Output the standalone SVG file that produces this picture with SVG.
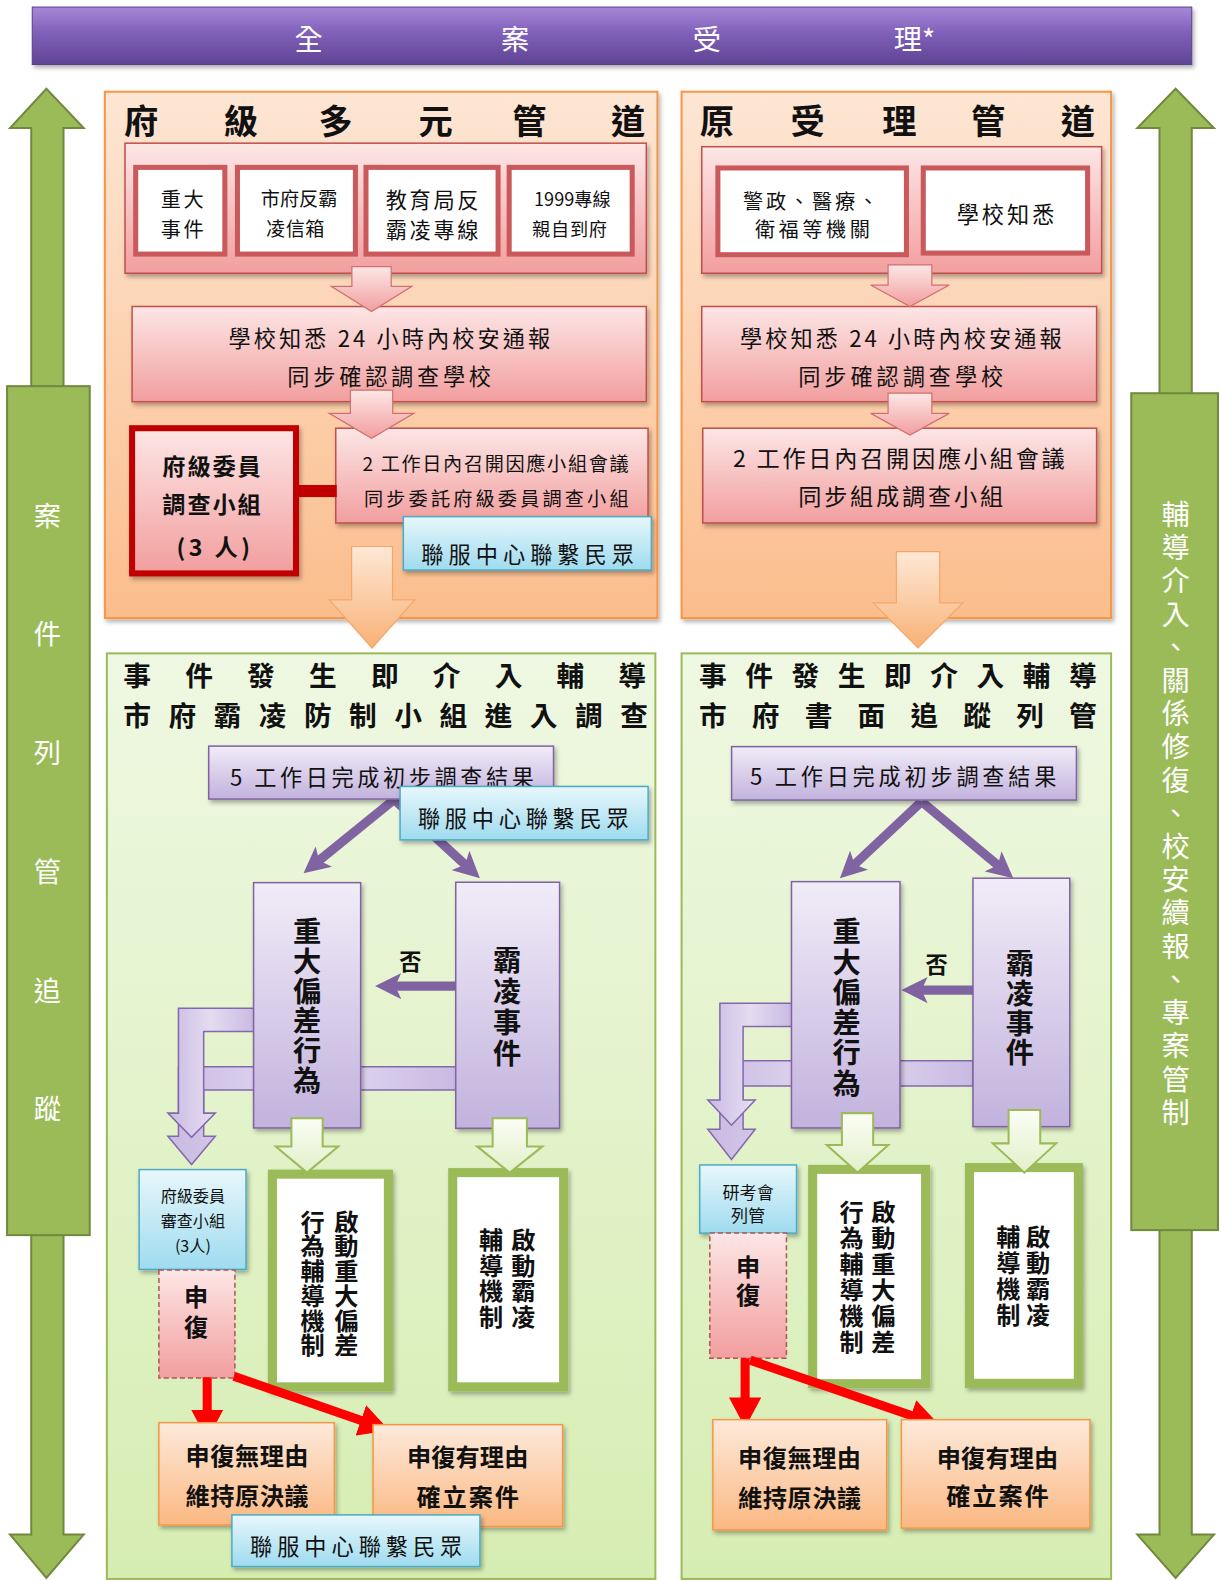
<svg xmlns="http://www.w3.org/2000/svg" width="1221" height="1581" viewBox="0 0 1221 1581">
<defs>
<style>
.t{font-family:"Noto Sans CJK TC","Noto Sans CJK SC",sans-serif;dominant-baseline:central;fill:#111}
.v{writing-mode:vertical-rl}
.b{font-weight:700}
.w{fill:#fff}
.c{text-anchor:middle}
.pink{fill:url(#gPink);stroke:#c0504d;stroke-width:1.5}
.wbox{fill:#fff;stroke:#c9595b;stroke-width:5}
.blue{fill:url(#gBlue);stroke:#4bacc6;stroke-width:1.5}
.lav{fill:url(#gLav);stroke:#8064a2;stroke-width:1.5}
.obox{fill:url(#gOBox);stroke:#f79646;stroke-width:1.5}
.gbox{fill:#fff;stroke:#9bbb59;stroke-width:9}
.parr{fill:url(#gPink);stroke:#d07070;stroke-width:1.2}
.oarr{fill:url(#gOArr);stroke:#f5a769;stroke-width:1.2}
.garr{fill:url(#gGArr);stroke:#9bbb59;stroke-width:2}
.bent{fill:url(#gBent);stroke:#8468ad;stroke-width:1.5}
.side{fill:#9bbb59;stroke:#71893f;stroke-width:2}
.pl{stroke:#8064a2;stroke-width:9;fill:none}
.rl{stroke:#f00;stroke-width:9;fill:none}
</style>
<linearGradient id="gBanner" x1="0" y1="0" x2="0" y2="1"><stop offset="0" stop-color="#a688d8"/><stop offset="0.45" stop-color="#8060b9"/><stop offset="1" stop-color="#5f4494"/></linearGradient>
<linearGradient id="gOPanel" x1="0" y1="0" x2="0" y2="1"><stop offset="0" stop-color="#fde6d4"/><stop offset="1" stop-color="#fbbd8c"/></linearGradient>
<linearGradient id="gPink" x1="0" y1="0" x2="0" y2="1"><stop offset="0" stop-color="#fde6e6"/><stop offset="1" stop-color="#f29e9e"/></linearGradient>
<linearGradient id="gBlue" x1="0" y1="0" x2="0" y2="1"><stop offset="0" stop-color="#e8f7fc"/><stop offset="1" stop-color="#9edbef"/></linearGradient>
<linearGradient id="gGPanel" x1="0" y1="0" x2="0" y2="1"><stop offset="0" stop-color="#eff8e2"/><stop offset="1" stop-color="#d6edb2"/></linearGradient>
<linearGradient id="gLav" x1="0" y1="0" x2="0" y2="1"><stop offset="0" stop-color="#f1ecf8"/><stop offset="1" stop-color="#c2b2dd"/></linearGradient>
<linearGradient id="gOBox" x1="0" y1="0" x2="0" y2="1"><stop offset="0" stop-color="#fdeadb"/><stop offset="1" stop-color="#fbb882"/></linearGradient>
<linearGradient id="gOArr" x1="0" y1="0" x2="0" y2="1"><stop offset="0" stop-color="#fde8d6"/><stop offset="1" stop-color="#f9b176"/></linearGradient>
<linearGradient id="gGArr" x1="0" y1="0" x2="0" y2="1"><stop offset="0" stop-color="#fbfdf6"/><stop offset="1" stop-color="#e2f0c9"/></linearGradient>
<linearGradient id="gBent" x1="0" y1="0" x2="1" y2="0"><stop offset="0" stop-color="#c9bae2"/><stop offset="0.5" stop-color="#e4dcf1"/><stop offset="1" stop-color="#c9bae2"/></linearGradient>
<filter id="sh" x="-10%" y="-10%" width="125%" height="130%"><feDropShadow dx="2" dy="3" stdDeviation="2" flood-color="#000" flood-opacity="0.3"/></filter>
<marker id="mp" markerUnits="userSpaceOnUse" markerWidth="26" markerHeight="26" refX="13" refY="13" orient="auto"><path d="M0,0 L26,13 L0,26 L6,13 Z" fill="#8064a2"/></marker>
<marker id="mr" markerUnits="userSpaceOnUse" markerWidth="32" markerHeight="32" refX="14" refY="16" orient="auto"><path d="M0,0 L30,16 L0,32 Z" fill="#f00"/></marker>
</defs>
<rect width="1221" height="1581" fill="#fff"/>
<g transform="scale(1.00827)">

<g id="banner">
<rect x="32" y="7" width="1150" height="57" fill="url(#gBanner)" stroke="#5a4188" stroke-width="1" filter="url(#sh)"/>
<text class="t w c" font-size="28"><tspan x="306" y="37">全</tspan><tspan x="511" y="37">案</tspan><tspan x="701" y="37">受</tspan><tspan x="907" y="37">理*</tspan></text>
</g>

<g id="side-left">
<path class="side" d="M46,88 L83,127 L63,127 L63,1522 L83,1522 L46,1565 L10,1522 L31,1522 L31,127 L10,127 Z"/>
<rect class="side" x="7" y="383" width="82" height="842"/>
<text class="t w v" font-size="27" x="47" y="497.5" style="letter-spacing:90.8px">案件列管追蹤</text>
</g>
<g id="side-right">
<path class="side" d="M1166,88 L1204,127 L1182,127 L1182,1522 L1204,1522 L1166,1565 L1128,1522 L1150,1522 L1150,127 L1128,127 Z"/>
<rect class="side" x="1122" y="390" width="86" height="830"/>
<text class="t w v" font-size="28" x="1166" y="496" style="letter-spacing:4.94px">輔導介入、關係修復、校安續報、專案管制</text>
</g>

<g id="panel-left-top">
<rect x="104" y="91" width="548" height="522" fill="url(#gOPanel)" stroke="#f79646" stroke-width="2" filter="url(#sh)"/>
<text class="t b c" font-size="34"><tspan x="140" y="118">府</tspan><tspan x="239" y="118">級</tspan><tspan x="333" y="118">多</tspan><tspan x="432" y="118">元</tspan><tspan x="525" y="118">管</tspan><tspan x="623" y="118">道</tspan></text>
</g>
<g id="panel-right-top">
<rect x="676" y="91" width="426" height="522" fill="url(#gOPanel)" stroke="#f79646" stroke-width="2" filter="url(#sh)"/>
<text class="t b c" font-size="34"><tspan x="711" y="118">原</tspan><tspan x="801" y="118">受</tspan><tspan x="892" y="118">理</tspan><tspan x="980" y="118">管</tspan><tspan x="1069" y="118">道</tspan></text>
</g>

<g id="sources-left">
<rect class="pink" x="124" y="142" width="517" height="129" filter="url(#sh)"/>
<rect class="wbox" x="134.6" y="166" width="88.4" height="86"/>
<rect class="wbox" x="235.5" y="166" width="117" height="86"/>
<rect class="wbox" x="363" y="166" width="131" height="86"/>
<rect class="wbox" x="505" y="166" width="122" height="86"/>
<text class="t" font-size="20" x="159.4" y="196.7" textLength="42.6">重大</text>
<text class="t" font-size="20" x="159.4" y="226.4" textLength="42.6">事件</text>
<text class="t" font-size="19" x="258.6" y="196.7" textLength="76">市府反霸</text>
<text class="t" font-size="19" x="263.8" y="226.4" textLength="58">凌信箱</text>
<text class="t" font-size="21" x="382.5" y="196.7" textLength="92">教育局反</text>
<text class="t" font-size="21" x="382.5" y="226.4" textLength="92">霸凌專線</text>
<text class="t" font-size="18" x="529.6" y="196.7" textLength="76">1999專線</text>
<text class="t" font-size="18" x="527.6" y="226.4" textLength="74.4">親自到府</text>
</g>
<g id="sources-right">
<rect class="pink" x="696" y="145.5" width="396.6" height="125.5" filter="url(#sh)"/>
<rect class="wbox" x="712" y="166.6" width="187" height="86"/>
<rect class="wbox" x="915.7" y="166.6" width="163" height="84.4"/>
<text class="t" font-size="20" x="737" y="198.4" textLength="134">警政、醫療、</text>
<text class="t" font-size="20" x="748.7" y="226.4" textLength="114">衛福等機關</text>
<text class="t" font-size="22" x="948.8" y="211" textLength="97">學校知悉</text>
</g>

<g id="report-left">
<rect class="pink" x="131" y="304" width="510" height="94.4" filter="url(#sh)"/>
<text class="t" font-size="22" x="226.7" y="334" textLength="319">學校知悉 24 小時內校安通報</text>
<text class="t" font-size="22" x="285" y="372" textLength="202">同步確認調查學校</text>
</g>
<g id="report-right">
<rect class="pink" x="696" y="304" width="391.6" height="94.4" filter="url(#sh)"/>
<text class="t" font-size="22" x="734" y="334" textLength="319">學校知悉 24 小時內校安通報</text>
<text class="t" font-size="22" x="791.6" y="372" textLength="203.4">同步確認調查學校</text>
</g>

<g id="meeting-left">
<rect class="pink" x="333" y="424.7" width="309.7" height="94" filter="url(#sh)"/>
<text class="t" font-size="19" x="359.5" y="459.5" textLength="264">2 工作日內召開因應小組會議</text>
<text class="t" font-size="19" x="361" y="494" textLength="262.4">同步委託府級委員調查小組</text>
</g>
<g id="meeting-right">
<rect class="pink" x="697" y="424.7" width="390.6" height="94" filter="url(#sh)"/>
<text class="t" font-size="23" x="727" y="453" textLength="329">2 工作日內召開因應小組會議</text>
<text class="t" font-size="23" x="791.6" y="491" textLength="203.4">同步組成調查小組</text>
</g>

<g id="committee">
<rect x="131" y="424.7" width="162.6" height="144" fill="url(#gPink)" stroke="#c00000" stroke-width="6" filter="url(#sh)"/>
<text class="t b" font-size="23" x="161" y="461" textLength="97.6">府級委員</text>
<text class="t b" font-size="23" x="161" y="499" textLength="97.6">調查小組</text>
<text class="t b" font-size="23" x="175" y="542" textLength="73">(3 人)</text>
</g>

<g id="contact-1">
<rect class="blue" x="400" y="512.4" width="246" height="53" filter="url(#sh)"/>
<text class="t" font-size="22" x="417.8" y="548.7" textLength="211">聯服中心聯繫民眾</text>
</g>

<g id="panel-left-bottom">
<rect x="106" y="648" width="544" height="918" fill="url(#gGPanel)" stroke="#9bbb59" stroke-width="2"/>
<text class="t b c" font-size="27.5"><tspan x="136" y="668">事</tspan><tspan x="197.4" y="668">件</tspan><tspan x="258.8" y="668">發</tspan><tspan x="320.2" y="668">生</tspan><tspan x="381.6" y="668">即</tspan><tspan x="443" y="668">介</tspan><tspan x="504.4" y="668">入</tspan><tspan x="565.8" y="668">輔</tspan><tspan x="627" y="668">導</tspan></text>
<text class="t b c" font-size="27.5"><tspan x="136" y="708">市</tspan><tspan x="180.8" y="708">府</tspan><tspan x="225.6" y="708">霸</tspan><tspan x="270.4" y="708">凌</tspan><tspan x="315.2" y="708">防</tspan><tspan x="360" y="708">制</tspan><tspan x="404.8" y="708">小</tspan><tspan x="449.6" y="708">組</tspan><tspan x="494.4" y="708">進</tspan><tspan x="539.2" y="708">入</tspan><tspan x="584" y="708">調</tspan><tspan x="629" y="708">查</tspan></text>
</g>
<g id="panel-right-bottom">
<rect x="676" y="648" width="426" height="918" fill="url(#gGPanel)" stroke="#9bbb59" stroke-width="2"/>
<text class="t b c" font-size="27.5"><tspan x="707" y="668">事</tspan><tspan x="752.9" y="668">件</tspan><tspan x="798.8" y="668">發</tspan><tspan x="844.6" y="668">生</tspan><tspan x="890.5" y="668">即</tspan><tspan x="936.4" y="668">介</tspan><tspan x="982.2" y="668">入</tspan><tspan x="1028" y="668">輔</tspan><tspan x="1074" y="668">導</tspan></text>
<text class="t b c" font-size="27.5"><tspan x="707" y="708">市</tspan><tspan x="759.4" y="708">府</tspan><tspan x="811.9" y="708">書</tspan><tspan x="864.3" y="708">面</tspan><tspan x="916.7" y="708">追</tspan><tspan x="969.1" y="708">蹤</tspan><tspan x="1021.6" y="708">列</tspan><tspan x="1074" y="708">管</tspan></text>
</g>

<g id="connectors">
<path class="parr" d="M349,264.5 H388 V284 H408.5 L368.5,309 L328.5,284 H349 Z"/>
<path class="parr" d="M347.5,387 H389.5 V410 H410.5 L368.5,434.7 L326.5,410 H347.5 Z"/>
<path class="parr" d="M880.8,262.8 H924.2 V282.7 H941.5 L902.5,304 L863.5,282.7 H880.8 Z"/>
<path class="parr" d="M880.8,390 H924.2 V410 H941.5 L902.5,431.4 L863.5,410 H880.8 Z"/>
<rect x="293" y="481" width="41" height="12" fill="#c00000"/>
<path class="oarr" d="M348.7,542 H389.3 V595 H411.3 L369,642.7 L326.7,595 H348.7 Z"/>
<path class="oarr" d="M889,547 H932 V598 H955 L910.5,642.7 L866,598 H889 Z"/>
<line class="pl" x1="391" y1="793" x2="311.1" y2="857.8" marker-end="url(#mp)"/>
<line class="pl" x1="391" y1="793" x2="466.4" y2="862.2" marker-end="url(#mp)"/>
<line class="pl" x1="914" y1="795" x2="842.5" y2="862.1" marker-end="url(#mp)"/>
<line class="pl" x1="914" y1="795" x2="995" y2="862.7" marker-end="url(#mp)"/>
<line class="pl" x1="452" y1="978" x2="385" y2="978" marker-end="url(#mp)"/>
<line class="pl" x1="966" y1="982" x2="907" y2="982" marker-end="url(#mp)"/>
<path class="bent" d="M452,1058 H177 V1127 H166.5 L190,1155 L213.5,1127 H202 V1081 H452 Z"/>
<path class="bent" d="M252,1000 H177 V1104 H166.5 L190,1128 L213.5,1104 H202 V1023 H252 Z"/>
<path class="bent" d="M965,1052 H714 V1120 H702 L725.5,1150 L749,1120 H737 V1077 H965 Z"/>
<path class="bent" d="M786,995 H714 V1091 H702 L725.5,1116 L749,1091 H737 V1018 H786 Z"/>
</g>

<g id="survey-left">
<rect class="lav" x="207" y="740" width="342" height="52.5" filter="url(#sh)"/>
<text class="t" font-size="22" x="228" y="770" textLength="301.6">5 工作日完成初步調查結果</text>
</g>
<g id="survey-right">
<rect class="lav" x="725.6" y="740.5" width="342" height="53" filter="url(#sh)"/>
<text class="t" font-size="22" x="743.8" y="768.6" textLength="304">5 工作日完成初步調查結果</text>
</g>
<g id="contact-2">
<rect class="blue" x="396.8" y="780" width="246" height="53" filter="url(#sh)"/>
<text class="t" font-size="22" x="414.5" y="810" textLength="209">聯服中心聯繫民眾</text>
</g>

<g id="deviant-left">
<rect class="lav" x="251.5" y="875.4" width="106.2" height="243.3" filter="url(#sh)"/>
<text class="t b v" font-size="28" x="304.6" y="910" style="letter-spacing:1.4px">重大偏差行為</text>
</g>
<g id="bully-left">
<rect class="lav" x="452" y="875" width="103" height="244" filter="url(#sh)"/>
<text class="t b v" font-size="28" x="503" y="938" style="letter-spacing:3px">霸凌事件</text>
</g>
<text class="t b c" font-size="22" x="407" y="952">否</text>
<g id="deviant-right">
<rect class="lav" x="785" y="874.4" width="107.6" height="244.3" filter="url(#sh)"/>
<text class="t b v" font-size="28" x="839.7" y="910" style="letter-spacing:2px">重大偏差行為</text>
</g>
<g id="bully-right">
<rect class="lav" x="965" y="871" width="96" height="246.4" filter="url(#sh)"/>
<text class="t b v" font-size="28" x="1011.6" y="941" style="letter-spacing:1.7px">霸凌事件</text>
</g>
<text class="t b c" font-size="22" x="929" y="955">否</text>

<g id="mech-deviant-left">
<rect class="gbox" x="270.2" y="1164.5" width="115" height="211" filter="url(#sh)"/>
<text class="t b v" font-size="24" x="343.6" y="1199.6" style="letter-spacing:0.5px">啟動重大偏差</text>
<text class="t b v" font-size="24" x="310" y="1199.6" style="letter-spacing:0.5px">行為輔導機制</text>
</g>
<g id="mech-bully-left">
<rect class="gbox" x="449" y="1163" width="110" height="212.5" filter="url(#sh)"/>
<text class="t b v" font-size="24" x="519" y="1218" style="letter-spacing:1.3px">啟動霸凌</text>
<text class="t b v" font-size="24" x="487" y="1218" style="letter-spacing:1.3px">輔導機制</text>
</g>
<g id="mech-deviant-right">
<rect class="gbox" x="806" y="1159.8" width="112" height="212.5" filter="url(#sh)"/>
<text class="t b v" font-size="24" x="876" y="1189.7" style="letter-spacing:1.8px">啟動重大偏差</text>
<text class="t b v" font-size="24" x="844.7" y="1189.7" style="letter-spacing:1.8px">行為輔導機制</text>
</g>
<g id="mech-bully-right">
<rect class="gbox" x="961.5" y="1158" width="108" height="214" filter="url(#sh)"/>
<text class="t b v" font-size="24" x="1029.7" y="1214.5" style="letter-spacing:1.9px">啟動霸凌</text>
<text class="t b v" font-size="24" x="1000" y="1214.5" style="letter-spacing:1.9px">輔導機制</text>
</g>

<g id="review-left">
<rect class="blue" x="138" y="1160" width="106" height="99" filter="url(#sh)"/>
<text class="t c" font-size="16" x="191.3" y="1185">府級委員</text>
<text class="t c" font-size="16" x="191.3" y="1210">審查小組</text>
<text class="t c" font-size="16" x="191.3" y="1235">(3人)</text>
</g>
<g id="appeal-left">
<rect x="157.6" y="1259.6" width="75.4" height="107" fill="url(#gPink)" stroke="#b05556" stroke-width="1.5" stroke-dasharray="5 3"/>
<text class="t b v" font-size="24" x="194.6" y="1274" style="letter-spacing:5.7px">申復</text>
</g>
<g id="review-right">
<rect class="blue" x="694" y="1155.4" width="96" height="67.6" filter="url(#sh)"/>
<text class="t c" font-size="17" x="742" y="1182">研考會</text>
<text class="t c" font-size="17" x="742" y="1205">列管</text>
</g>
<g id="appeal-right">
<rect x="704" y="1223" width="76" height="124" fill="url(#gPink)" stroke="#b05556" stroke-width="1.5" stroke-dasharray="5 3"/>
<text class="t b v" font-size="24" x="742" y="1244" style="letter-spacing:4.4px">申復</text>
</g>

<g id="connectors-2">
<path class="garr" d="M289,1109 H320 V1137 H335.5 L304.5,1163 L273.5,1137 H289 Z"/>
<path class="garr" d="M488.6,1109 H522.6 V1137 H538 L505.6,1163 L473.2,1137 H488.6 Z"/>
<path class="garr" d="M835,1104 H866 V1135.6 H881 L850.5,1163 L820,1135.6 H835 Z"/>
<path class="garr" d="M1000.3,1101 H1031.7 V1134 H1047.5 L1016,1163 L984.5,1134 H1000.3 Z"/>
<line class="rl" x1="205.5" y1="1366" x2="205.5" y2="1412" marker-end="url(#mr)"/>
<line class="rl" x1="232" y1="1365" x2="371.1" y2="1413.4" marker-end="url(#mr)"/>
<line class="rl" x1="739" y1="1347" x2="739" y2="1400" marker-end="url(#mr)"/>
<line class="rl" x1="744" y1="1349" x2="916.8" y2="1408.4" marker-end="url(#mr)"/>
</g>

<g id="result-no-left">
<rect class="obox" x="157.6" y="1411" width="174" height="101.5" filter="url(#sh)"/>
<text class="t b" font-size="24" x="184" y="1443" textLength="122">申復無理由</text>
<text class="t b" font-size="24" x="184" y="1482.7" textLength="122">維持原決議</text>
</g>
<g id="result-yes-left">
<rect class="obox" x="370" y="1413" width="188" height="101" filter="url(#sh)"/>
<text class="t b" font-size="24" x="403.6" y="1444" textLength="120.4">申復有理由</text>
<text class="t b" font-size="24" x="413" y="1483" textLength="101.8">確立案件</text>
</g>
<g id="contact-3">
<rect class="blue" x="230" y="1502.5" width="246" height="51.2" filter="url(#sh)"/>
<text class="t" font-size="22" x="248" y="1532.3" textLength="210.5">聯服中心聯繫民眾</text>
</g>
<g id="result-no-right">
<rect class="obox" x="707" y="1408" width="172.4" height="109.4" filter="url(#sh)"/>
<text class="t b" font-size="24" x="732" y="1444.6" textLength="122">申復無理由</text>
<text class="t b" font-size="24" x="732" y="1484.3" textLength="122">維持原決議</text>
</g>
<g id="result-yes-right">
<rect class="obox" x="894" y="1408" width="187" height="107.6" filter="url(#sh)"/>
<text class="t b" font-size="24" x="929" y="1444.6" textLength="120.6">申復有理由</text>
<text class="t b" font-size="24" x="938.5" y="1482.7" textLength="101.6">確立案件</text>
</g>

</g>
</svg>
